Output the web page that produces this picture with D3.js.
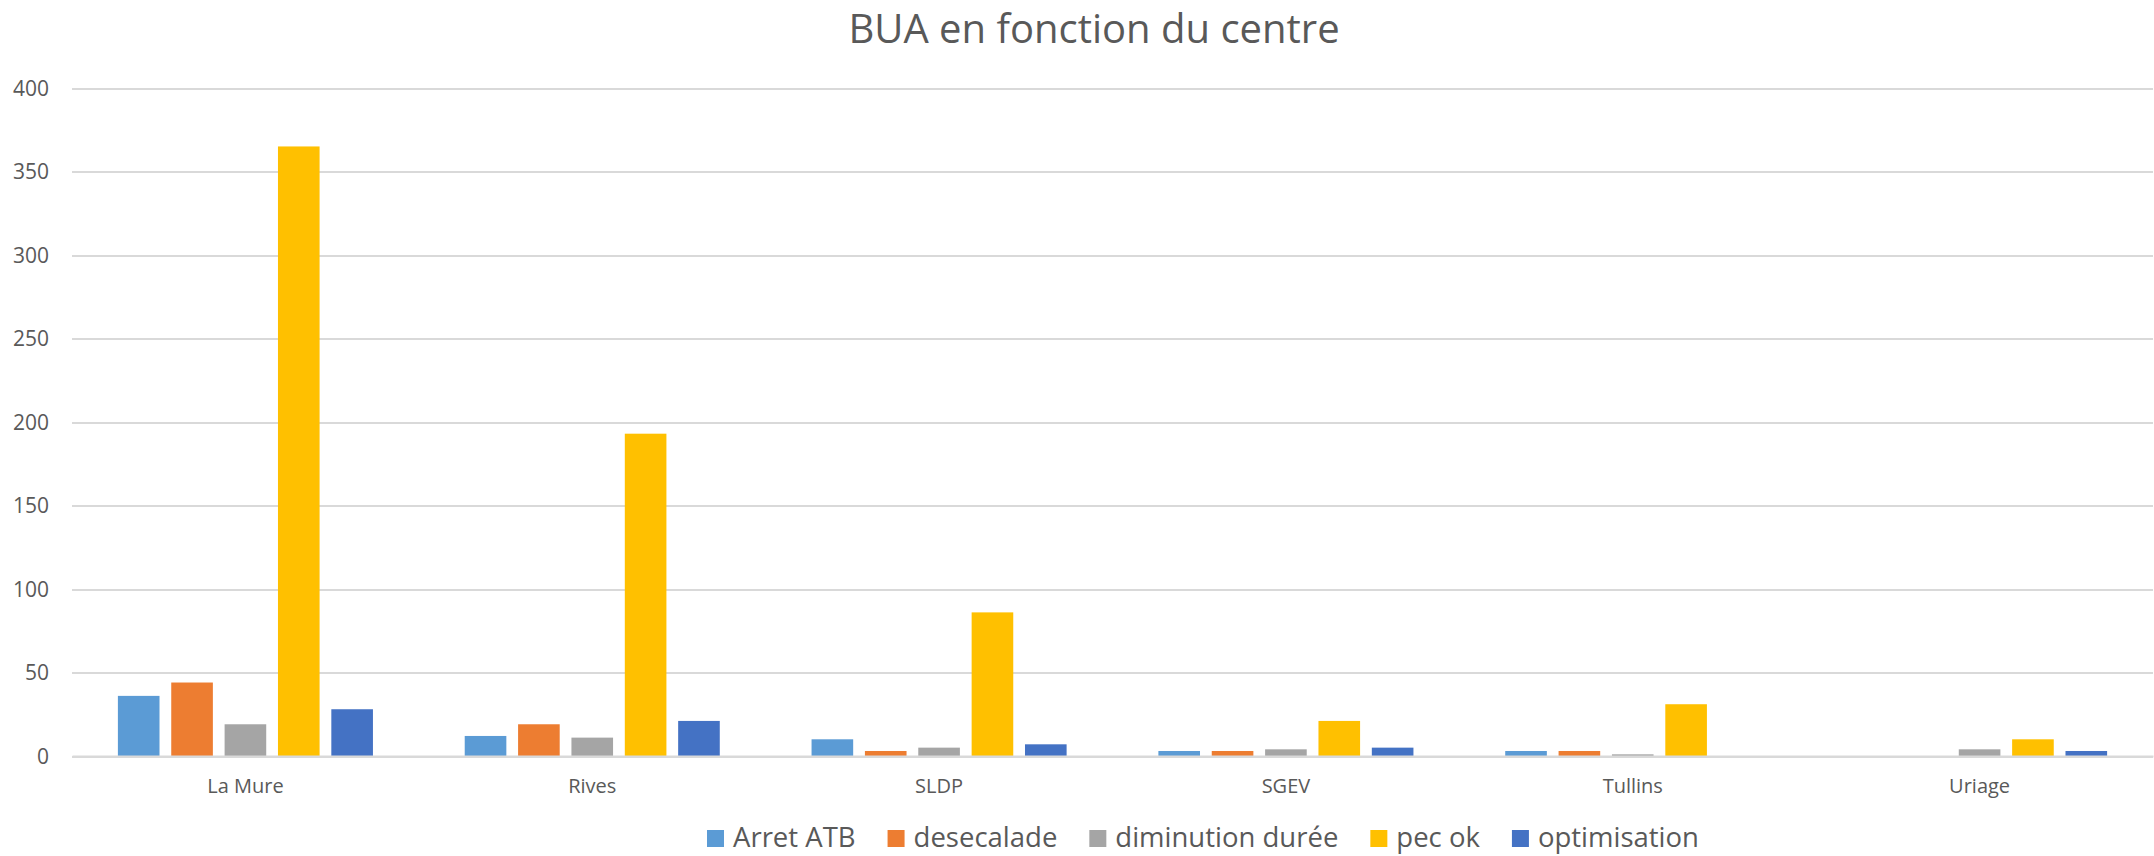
<!DOCTYPE html>
<html>
<head>
<meta charset="utf-8">
<script src="https://cdn.jsdelivr.net/npm/d3@7"></script>
<style>
  body { margin: 0; background: #ffffff; }
  svg { display: block; font-family: 'Open Sans', sans-serif; }
  .grid line { stroke: #d9d9d9; stroke-width: 2px; shape-rendering: crispEdges; }
  .grid path.domain { display: none; }
  .axis text { fill: #595959; font-family: 'Open Sans', sans-serif; }
</style>
</head>
<body>
<div id="chart"></div>
<script>
const centres = ['La Mure', 'Rives', 'SLDP', 'SGEV', 'Tullins', 'Uriage'];
const seriesNames = ['Arret ATB', 'desecalade', 'diminution durée', 'pec ok', 'optimisation'];
const seriesColors = ['#5b9bd5', '#ed7d31', '#a5a5a5', '#ffc000', '#4472c4'];

const arretAtb = [36, 12, 10, 3, 3, 0];
const desecalade = [44, 19, 3, 3, 3, 0];
const diminutionDuree = [19, 11, 5, 4, 1, 4];
const pecOk = [365, 193, 86, 21, 31, 10];
const optimisation = [28, 21, 7, 5, 0, 3];

const yTicks = [0, 50, 100, 150, 200, 250, 300, 350, 400];

const seriesValues = [arretAtb, desecalade, diminutionDuree, pecOk, optimisation];

const width = 2154, height = 856;
const margin = { top: 88, right: 1, bottom: 100, left: 72 };

const svg = d3.select('#chart')
  .append('svg')
  .attr('width', width)
  .attr('height', height);

const x0 = d3.scaleBand()
  .domain(centres)
  .range([margin.left, width - margin.right]);

const x1 = d3.scaleBand()
  .domain(seriesNames)
  .range([0, x0.bandwidth()])
  .paddingInner(0.22)
  .paddingOuter(0.86);

const y = d3.scaleLinear()
  .domain([0, 400])
  .range([height - margin.bottom, margin.top]);

// gridlines + y labels
svg.append('g')
  .attr('class', 'grid axis')
  .attr('transform', 'translate(' + margin.left + ',0)')
  .call(d3.axisLeft(y).tickValues(yTicks).tickSize(-(width - margin.left - margin.right)).tickPadding(23))
  .attr('font-family', null)
  .call(g => g.selectAll('.tick text').attr('font-size', '21px').attr('dy', '0.34em'));

// bars
const groups = svg.append('g')
  .selectAll('g')
  .data(centres)
  .join('g')
  .attr('transform', d => 'translate(' + x0(d) + ',0)');

groups.selectAll('rect')
  .data((c, i) => seriesNames.map((s, j) => ({ key: s, value: seriesValues[j][i], color: seriesColors[j] })))
  .join('rect')
  .attr('x', d => x1(d.key))
  .attr('y', d => y(d.value))
  .attr('width', x1.bandwidth())
  .attr('height', d => y(0) - y(d.value))
  .attr('fill', d => d.color);

// x axis
svg.append('g')
  .attr('class', 'axis')
  .attr('transform', 'translate(0,' + y(0) + ')')
  .call(d3.axisBottom(x0).tickSize(0).tickPadding(23))
  .attr('font-family', null)
  .call(g => g.select('.domain').attr('stroke', '#d9d9d9').attr('stroke-width', 2))
  .call(g => g.selectAll('.tick text').attr('font-size', '20px').attr('dy', '0.71em'));

// title
svg.append('text')
  .attr('x', 1094)
  .attr('y', 43)
  .attr('text-anchor', 'middle')
  .attr('font-size', '40px')
  .attr('fill', '#595959')
  .text('BUA en fonction du centre');

// legend
const legend = svg.append('g').attr('transform', 'translate(707,847)');
let lx = 0;
seriesNames.forEach((name, i) => {
  const item = legend.append('g').attr('transform', 'translate(' + lx + ',0)');
  item.append('rect')
    .attr('x', 0)
    .attr('y', -17)
    .attr('width', 17)
    .attr('height', 17)
    .attr('fill', seriesColors[i]);
  const t = item.append('text')
    .attr('x', 26)
    .attr('y', 0)
    .attr('font-size', '27.5px')
    .attr('fill', '#595959')
    .text(name);
  lx += 26 + t.node().getComputedTextLength() + 32;
});
</script>
</body>
</html>
